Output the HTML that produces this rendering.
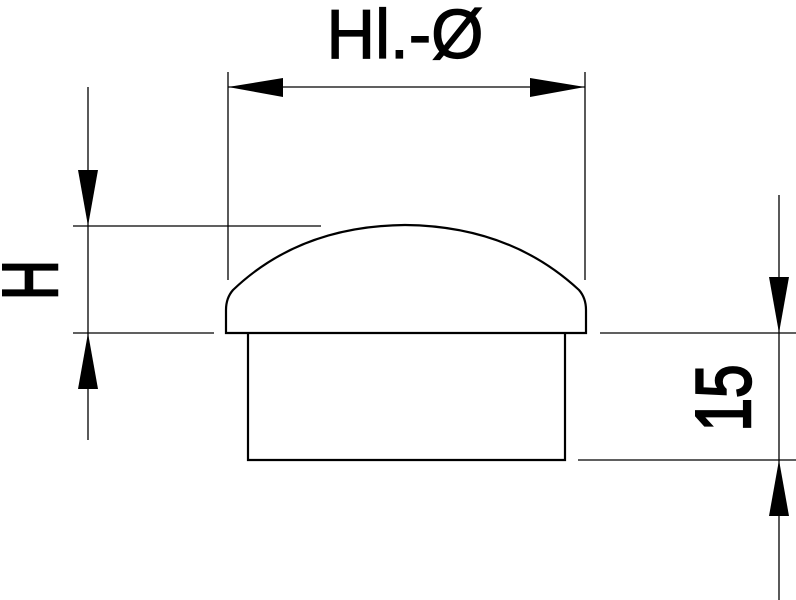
<!DOCTYPE html>
<html><head><meta charset="utf-8"><style>html,body{margin:0;padding:0;background:#fff}svg{display:block}</style></head>
<body>
<svg width="796" height="600" viewBox="0 0 796 600" xmlns="http://www.w3.org/2000/svg">
<g stroke="#000" stroke-width="1.3" fill="none">
  <line x1="228" y1="72" x2="228" y2="280"/>
  <line x1="585" y1="72" x2="585" y2="280"/>
  <line x1="228" y1="87" x2="585" y2="87"/>
  <line x1="88" y1="87" x2="88" y2="440"/>
  <line x1="73" y1="226" x2="321" y2="226"/>
  <line x1="73" y1="333" x2="214" y2="333"/>
  <line x1="779" y1="195" x2="779" y2="600"/>
  <line x1="600" y1="333" x2="796" y2="333"/>
  <line x1="578" y1="460" x2="796" y2="460"/>
</g>
<g stroke="#000" stroke-width="2.2" fill="none">
  <path d="M226,333 L226,310 Q226,298 233,290 Q300,226 405,225 Q510,226 579,290 Q586,298 586,310 L586,333 Z"/>
  <path d="M248,333 L248,460 L565,460 L565,333"/>
</g>
<g fill="#000">
  <polygon points="228,87 283,78 283,97"/>
  <polygon points="585,87 530,78 530,97"/>
  <polygon points="88,226 78,170 98,170"/>
  <polygon points="88,333 78,389 98,389"/>
  <polygon points="779,333 769,277 789,277"/>
  <polygon points="779,460 769,516 789,516"/>
</g>
<g font-family="Liberation Sans, Arial, sans-serif" fill="#000" stroke="#000" stroke-width="1.2">
  <text x="405" y="58" font-size="70" text-anchor="middle" textLength="157" lengthAdjust="spacingAndGlyphs">Hl.-Ø</text>
  <text transform="translate(57,280) rotate(-90)" font-size="78" text-anchor="middle" textLength="40" lengthAdjust="spacingAndGlyphs" stroke-width="2.5">H</text>
  <text transform="translate(750,398) rotate(-90)" font-size="78" text-anchor="middle" textLength="67" lengthAdjust="spacingAndGlyphs" stroke-width="2.5">15</text>
</g>
</svg>
</body></html>
